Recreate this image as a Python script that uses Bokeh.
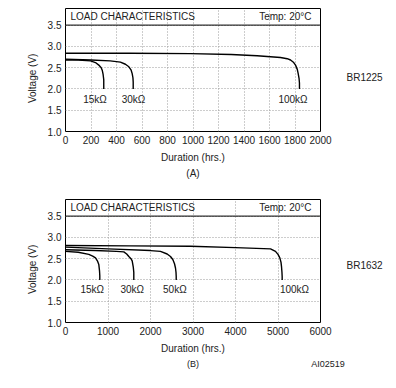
from bokeh.plotting import figure
from bokeh.layouts import column
from bokeh.models import Span, Label, FixedTicker, CustomJSTickFormatter, LinearAxis
from bokeh.embed import file_html
from bokeh.resources import INLINE

FONT = "Liberation Sans"
TXT = "#222222"
NBSP = "\u00a0"

# ---------------- Chart A : BR1225 ----------------
a_x_ticks = [0, 200, 400, 600, 800, 1000, 1200, 1400, 1600, 1800, 2000]
a_y_ticks = [1.0, 1.5, 2.0, 2.5, 3.0, 3.5]

a_15k_hours = [0, 100, 196, 235, 261, 280, 288, 295, 300, 300]
a_15k_volts = [2.68, 2.68, 2.66, 2.62, 2.56, 2.50, 2.44, 2.34, 2.22, 2.0]

a_30k_hours = [0, 200, 350, 431, 470, 497, 515, 523, 529, 531, 531]
a_30k_volts = [2.70, 2.68, 2.66, 2.63, 2.58, 2.52, 2.44, 2.36, 2.26, 2.16, 2.0]

a_100k_hours = [0, 500, 980, 1300, 1503, 1686, 1739, 1765, 1790, 1804, 1818, 1825, 1832, 1835, 1835]
a_100k_volts = [2.84, 2.84, 2.83, 2.81, 2.78, 2.74, 2.71, 2.68, 2.62, 2.56, 2.46, 2.36, 2.24, 2.14, 2.0]

a_curves = [(a_15k_hours, a_15k_volts), (a_30k_hours, a_30k_volts), (a_100k_hours, a_100k_volts)]
a_labels = ["15kΩ", "30kΩ", "100kΩ"]
a_label_hours = [231, 533, 1784]

# ---------------- Chart B : BR1632 ----------------
b_x_ticks = [0, 1000, 2000, 3000, 4000, 5000, 6000]
b_y_ticks = [1.0, 1.5, 2.0, 2.5, 3.0, 3.5]

b_15k_hours = [0, 300, 549, 640, 706, 750, 784, 800, 807, 807]
b_15k_volts = [2.67, 2.65, 2.60, 2.56, 2.52, 2.45, 2.36, 2.22, 2.10, 2.0]

b_30k_hours = [0, 700, 1200, 1372, 1440, 1490, 1540, 1569, 1595, 1607, 1607]
b_30k_volts = [2.71, 2.69, 2.67, 2.66, 2.61, 2.55, 2.50, 2.45, 2.30, 2.18, 2.0]

b_50k_hours = [0, 1000, 2000, 2235, 2392, 2470, 2525, 2565, 2588, 2600, 2605, 2605]
b_50k_volts = [2.77, 2.73, 2.69, 2.67, 2.61, 2.55, 2.48, 2.38, 2.28, 2.18, 2.08, 2.0]

b_100k_hours = [0, 1500, 2941, 4000, 4824, 4941, 5000, 5043, 5070, 5082, 5093, 5098, 5098]
b_100k_volts = [2.81, 2.80, 2.79, 2.76, 2.73, 2.67, 2.60, 2.52, 2.42, 2.32, 2.18, 2.08, 2.0]

b_curves = [(b_15k_hours, b_15k_volts), (b_30k_hours, b_30k_volts),
            (b_50k_hours, b_50k_volts), (b_100k_hours, b_100k_volts)]
b_labels = ["15kΩ", "30kΩ", "50kΩ", "100kΩ"]
b_label_hours = [628, 1569, 2572, 5388]


def style_axis(ax, size="10px"):
    ax.axis_line_color = None
    ax.major_tick_line_color = None
    ax.minor_tick_line_color = None
    ax.major_tick_out = 0
    ax.major_tick_in = 0
    ax.minor_tick_out = 0
    ax.minor_tick_in = 0
    ax.major_label_text_font = FONT
    ax.major_label_text_font_size = size
    ax.major_label_text_color = TXT
    ax.major_label_standoff = 4
    ax.axis_label_text_font = FONT
    ax.axis_label_text_font_size = "10px"
    ax.axis_label_text_font_style = "normal"
    ax.axis_label_text_color = TXT


def make_panel(xmax, x_ticks, y_ticks, curves, labels, label_hours, label_v,
               height, top, bottom, model, model_v, foot_ticks, foot_texts, foot_size):
    p = figure(width=396, height=height, x_range=(0, xmax), y_range=(1.0, 3.89),
               output_backend="svg", toolbar_location=None,
               min_border_left=65, min_border_right=76,
               min_border_top=top, min_border_bottom=bottom)
    p.outline_line_color = "black"
    p.outline_line_width = 1
    p.background_fill_color = "white"
    p.border_fill_color = "white"

    style_axis(p.xaxis[0])
    style_axis(p.yaxis[0])
    p.xaxis.ticker = FixedTicker(ticks=x_ticks)
    p.yaxis.ticker = FixedTicker(ticks=y_ticks)
    p.yaxis.formatter = CustomJSTickFormatter(code="return tick.toFixed(1);")
    p.xaxis.axis_label = "Duration (hrs.)"
    p.xaxis.axis_label_standoff = 5
    # trailing no-break spaces centre the title on the 1.0-3.5 V region below the header
    p.yaxis.axis_label = "Voltage (V)" + NBSP * 6
    p.yaxis.axis_label_standoff = 7

    # model name on the right, as a one-tick axis
    rax = LinearAxis(ticker=FixedTicker(ticks=[model_v]),
                     major_label_overrides={model_v: model})
    style_axis(rax)
    rax.major_label_standoff = 26
    p.add_layout(rax, "right")

    # panel letter (and figure code) under the x-axis title, as a second bottom axis
    fax = LinearAxis(ticker=FixedTicker(ticks=foot_ticks),
                     major_label_overrides=dict(zip(foot_ticks, foot_texts)))
    style_axis(fax, foot_size)
    fax.major_label_standoff = 2
    p.add_layout(fax, "below")

    p.grid.grid_line_color = "#9a9a9a"
    p.grid.grid_line_dash = "1 2"
    p.grid.grid_line_width = 1

    # header line
    p.add_layout(Span(location=3.5, dimension="width", line_color="black", line_width=1))

    for hrs, volts in curves:
        p.line(hrs, volts, line_color="black", line_width=1.4)

    for txt, hx in zip(labels, label_hours):
        p.add_layout(Label(x=hx, y=label_v, text=txt, text_font=FONT, text_font_size="10px",
                           text_color=TXT, text_align="center", text_baseline="middle"))

    p.add_layout(Label(x=xmax * 0.0195, y=3.695, text="LOAD CHARACTERISTICS", text_font=FONT,
                       text_font_size="10px", text_color=TXT,
                       text_align="left", text_baseline="middle"))
    p.add_layout(Label(x=xmax * 0.9647, y=3.695, text="Temp: 20°C", text_font=FONT,
                       text_font_size="10px", text_color=TXT,
                       text_align="right", text_baseline="middle"))
    return p


pa = make_panel(2000, a_x_ticks, a_y_ticks, a_curves, a_labels, a_label_hours, 1.75,
                190, 8, 59, "BR1225", 2.28, [1000], ["(A)"], "10px")
pb = make_panel(6000, b_x_ticks, b_y_ticks, b_curves, b_labels, b_label_hours, 1.78,
                198, 9, 66, "BR1632", 2.33, [3000, 6000],
                ["(B)", NBSP * 6 + "AI02519"], "9px")

layout = column(pa, pb, spacing=0)
open("out.html", "w").write(file_html(layout, INLINE))
